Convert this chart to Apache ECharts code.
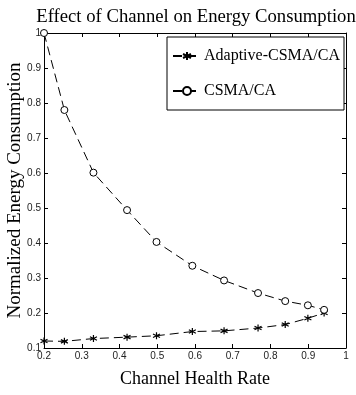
<!DOCTYPE html>
<html>
<head>
<meta charset="utf-8">
<script src="https://cdn.jsdelivr.net/npm/echarts@6/dist/echarts.min.js"></script>
<style>
html,body{margin:0;padding:0;background:#fff}
#main{width:356px;height:395px}
</style>
</head>
<body>
<div id="main"></div>
<script>
// channel health rate (x) and normalized energy for each protocol
var rate = [0.2, 0.254, 0.331, 0.42, 0.498, 0.593, 0.677, 0.767, 0.839, 0.899, 0.942];
var adaptive = [0.12, 0.119, 0.127, 0.131, 0.135, 0.147, 0.149, 0.157, 0.167, 0.185, 0.2];
var csma = [1.0, 0.78, 0.601, 0.494, 0.403, 0.335, 0.293, 0.257, 0.234, 0.222, 0.209];
var names = ['Adaptive-CSMA/CA', 'CSMA/CA'];

function pairs(xs, ys){
    var out = [];
    for (let i = 0; i < xs.length; i++) {
        out.push([xs[i], ys[i]]);
    }
    return out;
}

var serif = '"Liberation Serif", "DejaVu Serif", serif';
var sans = '"Liberation Sans", Arial, sans-serif';
var star = 'path://M0,-5L0,5M-4.3,-2.5L4.3,2.5M-4.3,2.5L4.3,-2.5';

var chart = echarts.init(document.getElementById('main'));

function axisBase(pos, showLabel){
    return {
        type: 'value',
        position: pos,
        min: 0,
        max: 1,
        interval: 0.1,
        axisLine: {show: true, onZero: false, lineStyle: {color: '#000', width: 1}},
        axisTick: {show: true, inside: true, length: 4, lineStyle: {color: '#000'}},
        axisLabel: {show: showLabel, color: '#222', fontFamily: sans, fontSize: 10, margin: 3},
        splitLine: {show: false}
    };
}

var xBottom = axisBase('bottom', true);
xBottom.min = 0.2;
xBottom.name = 'Channel Health Rate';
xBottom.nameLocation = 'middle';
xBottom.nameGap = 22;
xBottom.nameMoveOverlap = false;
xBottom.nameTextStyle = {fontFamily: serif, fontSize: 18, color: '#000'};
var xTop = axisBase('top', false);
xTop.min = 0.2;

var yLeft = axisBase('left', true);
yLeft.min = 0.1;
yLeft.name = 'Normalized Energy Consumption';
yLeft.nameLocation = 'middle';
yLeft.nameGap = 19;
yLeft.nameMoveOverlap = false;
yLeft.nameTextStyle = {fontFamily: serif, fontSize: 19, color: '#000'};
var yRight = axisBase('right', false);
yRight.min = 0.1;

var option = {
    animation: false,
    title: {
        text: 'Effect of Channel on Energy Consumption',
        left: 191,
        textAlign: 'center',
        top: 3,
        textStyle: {fontFamily: serif, fontSize: 18.7, fontWeight: 'normal', color: '#000'}
    },
    grid: {left: 44, right: 10, top: 33, bottom: 47, outerBoundsMode: 'none', containLabel: false},
    legend: {
        data: names,
        orient: 'vertical',
        left: 167,
        top: 37,
        padding: [11, 4, 11, 5],
        itemGap: 19,
        itemWidth: 28,
        itemHeight: 10,
        borderColor: '#000',
        borderWidth: 1,
        backgroundColor: '#fff',
        textStyle: {fontFamily: serif, fontSize: 16, color: '#000', padding: [0, 0, 0, -2]}
    },
    xAxis: [xBottom, xTop],
    yAxis: [yLeft, yRight],
    series: [
        {
            name: names[0],
            type: 'line',
            data: pairs(rate, adaptive),
            symbol: star,
            symbolSize: 7,
            itemStyle: {color: 'none', borderColor: '#000', borderWidth: 1.2},
            lineStyle: {color: '#000', width: 1, type: [9, 5]}
        },
        {
            name: names[1],
            type: 'line',
            data: pairs(rate, csma),
            symbol: 'circle',
            symbolSize: 7,
            itemStyle: {color: '#fff', borderColor: '#000', borderWidth: 1},
            lineStyle: {color: '#000', width: 1, type: [9, 5]}
        }
    ]
};
chart.setOption(option);
</script>
</body>
</html>
